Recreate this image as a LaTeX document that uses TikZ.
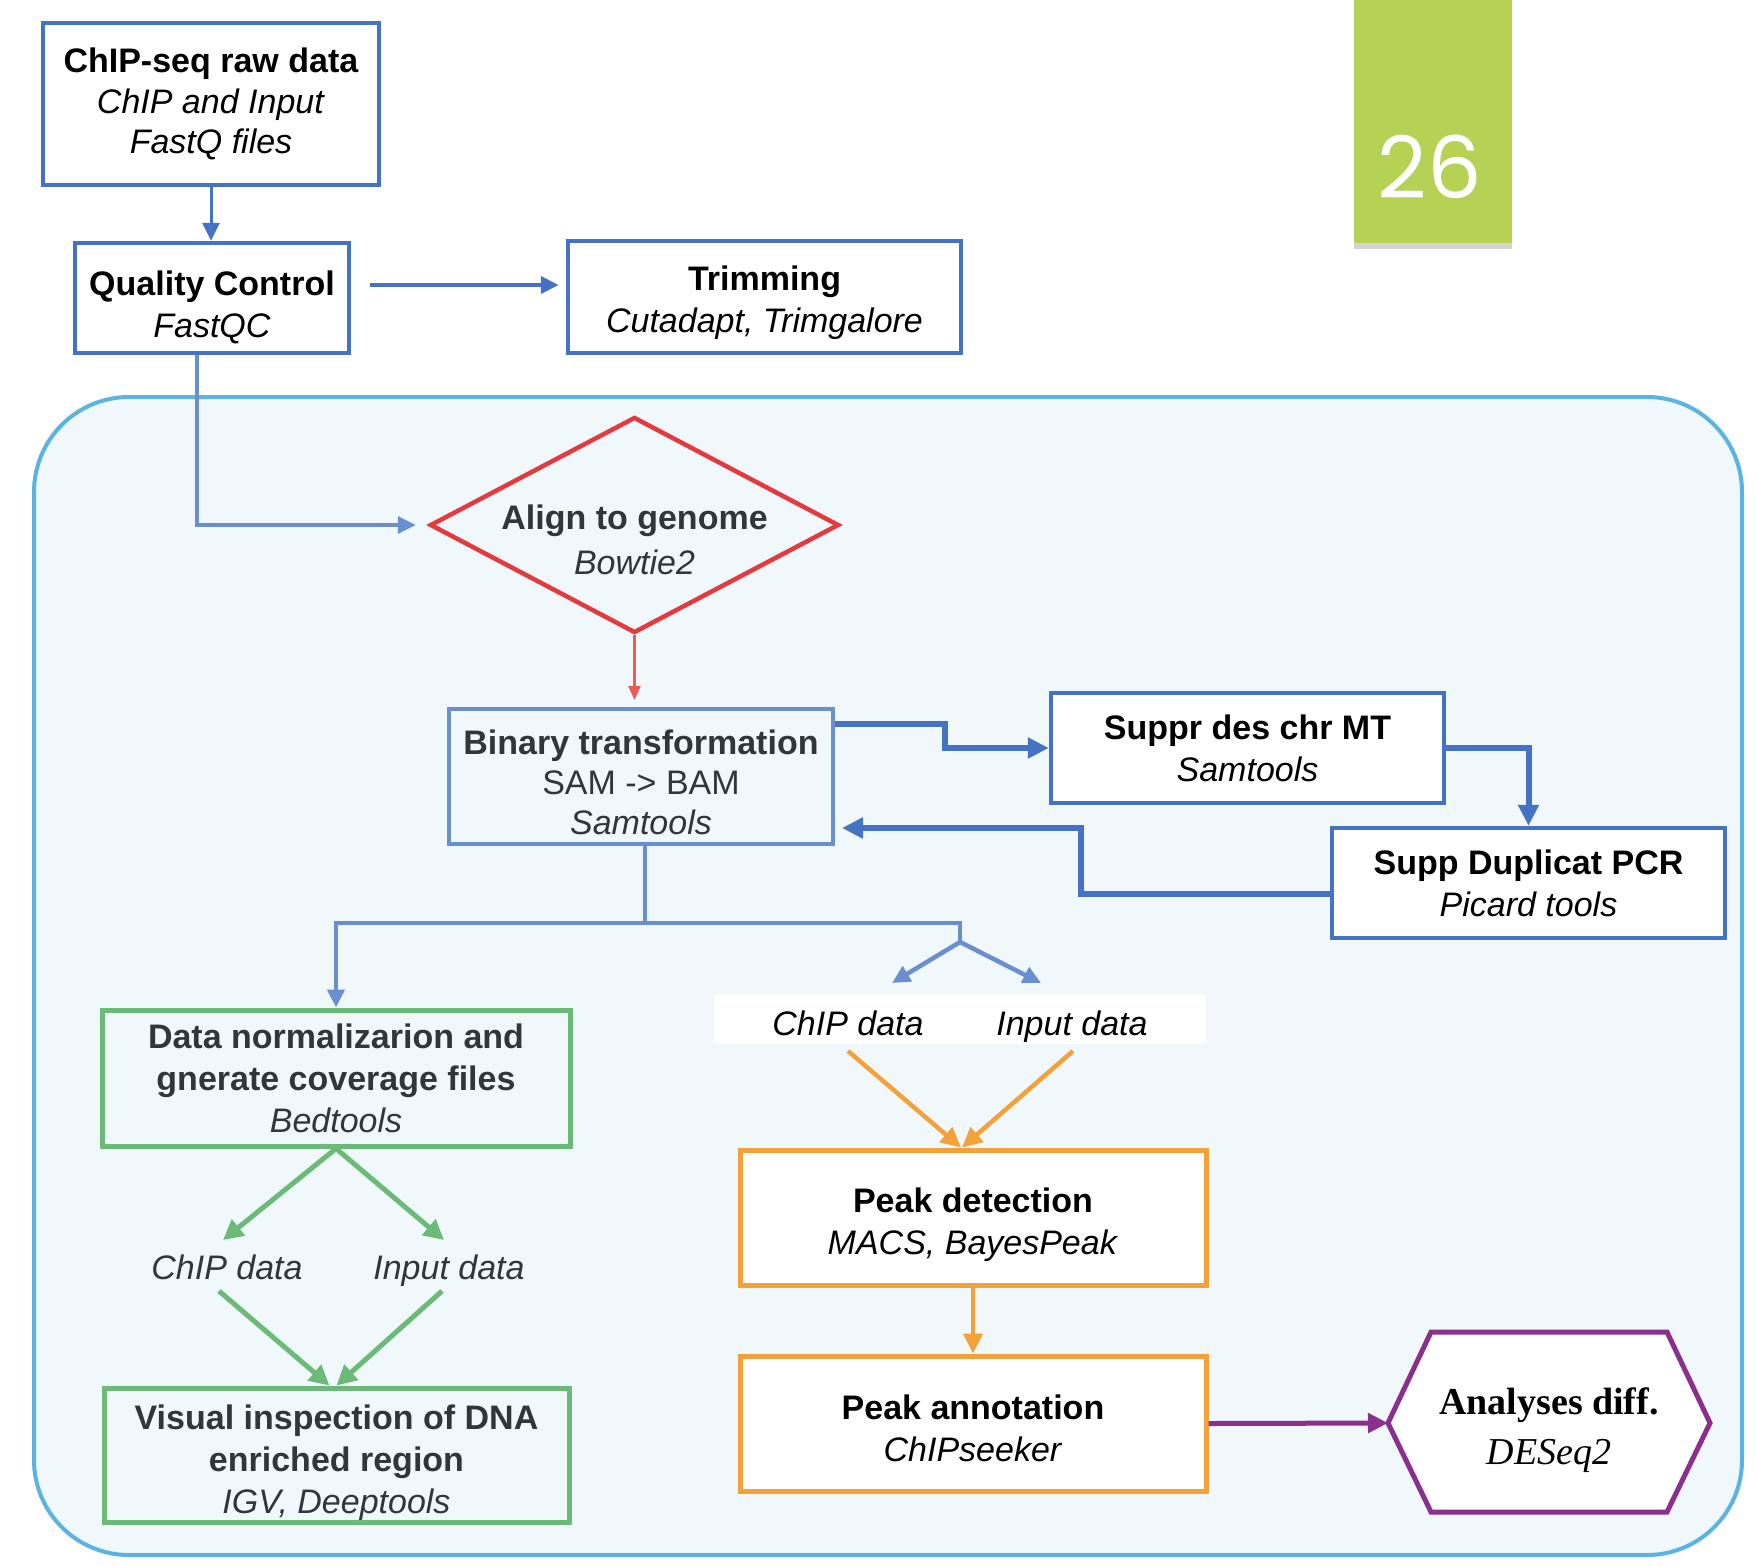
\documentclass[tikz,border=0pt]{standalone}
\usepackage{fontspec}
\setmainfont{Liberation Sans}
\newfontfamily\difffont{Liberation Serif}
\newfontfamily\pagefont{Poppins}
\usetikzlibrary{arrows.meta,shapes.geometric,shadows}
\definecolor{bdark}{HTML}{4472C4}
\definecolor{blight}{HTML}{6A8FD0}
\definecolor{frameline}{HTML}{59B4E3}
\definecolor{framebg}{HTML}{F0F8FC}
\definecolor{rd}{HTML}{E5393E}
\definecolor{rdarrow}{HTML}{EC5B56}
\definecolor{gr}{HTML}{6BBA77}
\definecolor{org}{HTML}{F4A13A}
\definecolor{prp}{HTML}{8B2F8E}
\definecolor{txtgray}{HTML}{30363B}
\definecolor{lime}{HTML}{B5D255}
\begin{document}
\begin{tikzpicture}[x=1pt,y=-1pt,>={Triangle[length=18pt,width=17pt]},
    box/.style={draw,fill=white,line width=4.5pt,inner sep=0pt,align=center,font=\fontsize{34}{42}\selectfont},
    lbl/.style={inner sep=0pt,text height=25pt,text depth=7pt,align=center,font=\fontsize{34}{42}\selectfont\itshape},
    ar/.style={->,line width=4pt,bdark},
    thk/.style={->,line width=6pt,bdark,>={Triangle[length=21pt,width=20pt]}},
    br/.style={line width=4.5pt,blight},
    gar/.style={->,line width=5pt,gr,>={Triangle[length=20pt,width=20pt]}},
    oar/.style={->,line width=4.5pt,org,>={Triangle[length=20pt,width=19pt]}},
    par/.style={->,line width=5pt,prp,>={Triangle[length=20pt,width=19pt]}}]
\useasboundingbox (0,0) rectangle (1758,1566);
% frame round the alignment steps
\draw[frameline,fill=framebg,line width=4pt,rounded corners=95pt](34,397)rectangle(1742,1555);
% page tab
\node[fill=lime,minimum width=158pt,minimum height=243pt,inner sep=0pt,
    drop shadow={shadow xshift=0pt,shadow yshift=-6pt,opacity=.35}](tab)at(1433,121.5){};
\node[text=white,inner sep=0pt,font=\pagefont\fontsize{86}{86}\selectfont](pg)at(1430,167){26};
% top row
\node[box,draw=bdark,minimum width=336pt,minimum height=162pt,font=\fontsize{34}{40.5}\selectfont](raw)at(211,104){\textbf{ChIP-seq raw data}\\\textit{ChIP and Input}\\\textit{FastQ files}};
\node[box,draw=bdark,minimum width=274pt,minimum height=110pt,text height=85pt](qc)at(212,298){\textbf{Quality Control}\\\textit{FastQC}};
\node[box,draw=bdark,minimum width=393pt,minimum height=112pt,text height=78pt](trim)at(764.5,297){\textbf{Trimming}\\\textit{Cutadapt, Trimgalore}};
% alignment
\node[diamond,draw=rd,line width=4.5pt,minimum width=409pt,minimum height=216pt,inner sep=0pt](align)at(634.5,525){};
\node[text=txtgray,align=center,inner sep=0pt,font=\fontsize{34}{45}\selectfont](alignt)at(634.5,540){\textbf{Align to genome}\\\textit{Bowtie2}};
\node[box,draw=blight,fill=framebg,line width=4pt,minimum width=384pt,minimum height=135pt,text height=116pt,text=txtgray,font=\fontsize{34}{40}\selectfont](bin)at(641,776.5){\textbf{Binary transformation}\\SAM -> BAM\\\textit{Samtools}};
\node[box,draw=bdark,minimum width=393pt,minimum height=110pt](sup)at(1247.5,748){\textbf{Suppr des chr MT}\\\textit{Samtools}};
\node[box,draw=bdark,minimum width=393pt,minimum height=110pt](dup)at(1528.5,883){\textbf{Supp Duplicat PCR}\\\textit{Picard tools}};
% coverage side
\node[box,draw=gr,fill=framebg,line width=5pt,minimum width=468pt,minimum height=136pt,text=txtgray](norm)at(336,1078){\textbf{Data normalizarion and}\\\textbf{gnerate coverage files}\\\textit{Bedtools}};
\node[lbl,text=txtgray](gchip)at(227,1270){ChIP data};
\node[lbl,text=txtgray](ginp)at(449,1270){Input data};
\node[box,draw=gr,fill=framebg,line width=5pt,minimum width=465pt,minimum height=134pt,text height=124pt,text=txtgray](vis)at(336.5,1455){\textbf{Visual inspection of DNA}\\\textbf{enriched region}\\\textit{IGV, Deeptools}};
% peak side
\node[fill=white,minimum width=492pt,minimum height=50pt,inner sep=0pt](lblbg)at(960,1019){};
\node[lbl](ochip)at(848,1026){ChIP data};
\node[lbl](oinp)at(1072,1026){Input data};
\node[box,draw=org,line width=5pt,minimum width=466pt,minimum height=135pt,text height=82pt](peak)at(973,1217.5){\textbf{Peak detection}\\\textit{MACS, BayesPeak}};
\node[box,draw=org,line width=5pt,minimum width=466pt,minimum height=135pt,text height=76pt](annot)at(973,1423.5){\textbf{Peak annotation}\\\textit{ChIPseeker}};
\draw[prp,line width=5pt,fill=white](1388,1423)--(1431,1332)--(1667,1332)--(1710,1423)--(1667,1512)--(1431,1512)--cycle;
\node[align=center,inner sep=0pt,font=\difffont\fontsize{38}{50}\selectfont](diff)at(1549,1430){\textbf{Analyses diff.}\\\textit{DESeq2}};
% connectors
\coordinate(b1)at(945,724);
\coordinate(b2)at(1081,828);
\coordinate(hub)at(645,923);
\coordinate(fork)at(960,942);
\coordinate(ta)at(892,983);
\coordinate(tb)at(1041,983);
\coordinate(g1)at(223,1240);
\coordinate(g2)at(444,1240);
\coordinate(g3)at(219,1291);
\coordinate(g4)at(442,1291);
\coordinate(o1)at(848,1051);
\coordinate(o2)at(1073,1051);
\coordinate(hexw)at(1388,1423);
\draw[->,bdark,line width=3pt](raw.south)--(raw.south|-qc.north);
\draw[ar]([shift={(19,-13)}]qc.east)--([shift={(-7,-12)}]trim.west);
\draw[->,blight,line width=3.5pt]([xshift=-15pt]qc.south)|-([xshift=-12pt]align.west);
\draw[->,rdarrow,line width=2.5pt,shorten >=7pt,>={Triangle[length=14pt,width=12pt]}](align.south)--(align.south|-bin.north);
\draw[thk]([yshift=52.5pt]bin.east)--(b1)|-(sup.west);
\draw[thk](sup.east)-|(dup.north);
\draw[thk,shorten >=7pt]([yshift=-11pt]dup.west)-|(b2)--(bin.east|-b2);
\draw[br,->](hub|-bin.south)--(hub)-|(norm.north);
\draw[br](hub)-|(fork);
\draw[br,->](fork)--(ta);
\draw[br,->](fork)--(tb);
\draw[gar](norm.south)--(g1);
\draw[gar](norm.south)--(g2);
\draw[gar](g3)--([xshift=-7pt]vis.north);
\draw[gar](g4)--(vis.north);
\draw[oar](o1)--([xshift=-12pt]peak.north);
\draw[oar](o2)--([xshift=-11pt]peak.north);
\draw[oar](peak.south)--(annot.north);
\draw[par](annot.east)--(hexw);
\end{tikzpicture}
\end{document}
